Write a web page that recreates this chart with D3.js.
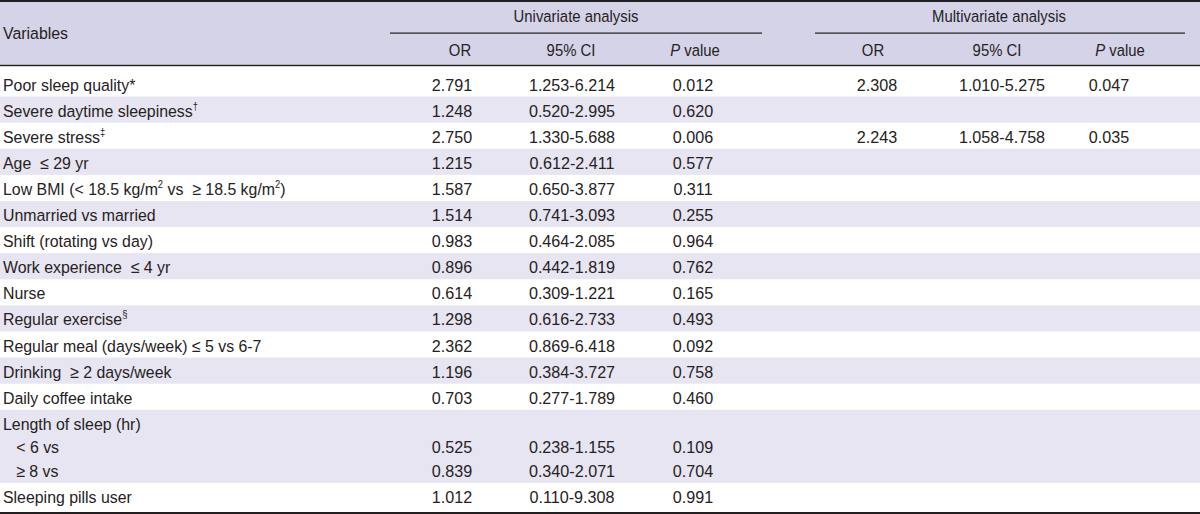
<!DOCTYPE html>
<html>
<head>
<meta charset="utf-8">
<script src="https://cdn.jsdelivr.net/npm/d3@7"></script>
<style>
  html, body { margin: 0; padding: 0; background: #ffffff; }
  svg { display: block; }
  text { font-family: "Liberation Sans", Arial, sans-serif; fill: #262223; white-space: pre; }
</style>
</head>
<body>
<svg id="chart" width="1200" height="514"></svg>
<script>
// ---- data ----
const groups = ["Univariate analysis", "Multivariate analysis"];
const subHeaders = ["OR", "95% CI", "P value", "OR", "95% CI", "P value"];
// label lines; |x| marks a superscript
const variables = [
  ["Poor sleep quality*"],
  ["Severe daytime sleepiness|†|"],
  ["Severe stress|‡|"],
  ["Age  ≤ 29 yr"],
  ["Low BMI (< 18.5 kg/m|2| vs  ≥ 18.5 kg/m|2|)"],
  ["Unmarried vs married"],
  ["Shift (rotating vs day)"],
  ["Work experience  ≤ 4 yr"],
  ["Nurse"],
  ["Regular exercise|§|"],
  ["Regular meal (days/week) ≤ 5 vs 6-7"],
  ["Drinking  ≥ 2 days/week"],
  ["Daily coffee intake"],
  ["Length of sleep (hr)", "   < 6 vs", "   ≥ 8 vs"],
  ["Sleeping pills user"]
];
const uniOR = [["2.791"],["1.248"],["2.750"],["1.215"],["1.587"],["1.514"],["0.983"],["0.896"],["0.614"],["1.298"],["2.362"],["1.196"],["0.703"],["","0.525","0.839"],["1.012"]];
const uniCI = [["1.253-6.214"],["0.520-2.995"],["1.330-5.688"],["0.612-2.411"],["0.650-3.877"],["0.741-3.093"],["0.464-2.085"],["0.442-1.819"],["0.309-1.221"],["0.616-2.733"],["0.869-6.418"],["0.384-3.727"],["0.277-1.789"],["","0.238-1.155","0.340-2.071"],["0.110-9.308"]];
const uniP  = [["0.012"],["0.620"],["0.006"],["0.577"],["0.311"],["0.255"],["0.964"],["0.762"],["0.165"],["0.493"],["0.092"],["0.758"],["0.460"],["","0.109","0.704"],["0.991"]];
const multiOR = [["2.308"],[""],["2.243"],[""],[""],[""],[""],[""],[""],[""],[""],[""],[""],["","",""],[""]];
const multiCI = [["1.010-5.275"],[""],["1.058-4.758"],[""],[""],[""],[""],[""],[""],[""],[""],[""],[""],["","",""],[""]];
const multiP  = [["0.047"],[""],["0.035"],[""],[""],[""],[""],[""],[""],[""],[""],[""],[""],["","",""],[""]];

// ---- layout ----
const W = 1200, H = 514;
const svg = d3.select("#chart");
const ink = "#231f20";
const headerBg = "#d4d3e7";
const bandBg = "#e6e5f1";
const fontSize = 17;
const kHead = 0.875;   // condensed look for column headers
const kText = 0.935;   // condensed look for variable labels
const kNum = 0.95;     // condensed look for numbers

const headerTop = 2, headerBottom = 65.5;
const rowH = 26.1, lineH = 23.5, firstExtra = 5, lastExtra = 2.6;
const textShift = 1;

let yCursor = headerBottom;
const rows = variables.map((lines, i) => {
  const extraTop = i === 0 ? firstExtra : 0;
  const extraBot = i === variables.length - 1 ? lastExtra : 0;
  const h = rowH + (lines.length - 1) * lineH + extraTop + extraBot;
  const r = { i, lines, y0: yCursor, h, textTop: yCursor + extraTop + textShift };
  yCursor += h;
  return r;
});

const lineY = d3.scaleLinear().domain([0, 1]).range([0, lineH]);

const colKeys = ["uOR", "uCI", "uP", "mOR", "mCI", "mP"];
const xVal = d3.scaleOrdinal().domain(colKeys).range([452, 572, 693, 877, 1002, 1109]);
const xHead = d3.scaleOrdinal().domain(colKeys).range([460, 571, 695, 873, 997, 1120]);
const groupSpan = d3.scaleOrdinal().domain(groups).range([[390, 762], [815, 1185]]);
const groupCenter = d3.scaleOrdinal().domain(groups).range([576, 999]);

const place = (x, y, k) => `translate(${x},${y}) scale(${k},1)`;

// backgrounds
svg.append("rect").attr("x", 0).attr("y", headerTop).attr("width", W).attr("height", headerBottom - headerTop).attr("fill", headerBg);
svg.selectAll("rect.band").data(rows.filter(r => r.i % 2 === 1)).join("rect")
  .attr("class", "band").attr("x", 0).attr("y", d => d.y0).attr("width", W).attr("height", d => d.h).attr("fill", bandBg);

// rules
svg.append("rect").attr("x", 0).attr("y", 0).attr("width", W).attr("height", 2).attr("fill", ink);
svg.append("rect").attr("x", 0).attr("y", headerBottom - 0.7).attr("width", W).attr("height", 1.4).attr("fill", ink);
svg.append("rect").attr("x", 0).attr("y", H - 2).attr("width", W).attr("height", 2).attr("fill", ink);
svg.selectAll("rect.gline").data(groups).join("rect").attr("class", "gline")
  .attr("x", d => groupSpan(d)[0]).attr("y", 32.5).attr("width", d => groupSpan(d)[1] - groupSpan(d)[0]).attr("height", 1.2).attr("fill", ink);

// header text
const dy = "0.35em";
svg.append("text").attr("transform", place(3, 33, kText)).attr("dy", dy).attr("font-size", fontSize).text("Variables");
svg.selectAll("text.group").data(groups).join("text").attr("class", "group")
  .attr("transform", d => place(groupCenter(d), 16, kHead)).attr("dy", dy).attr("text-anchor", "middle").attr("font-size", fontSize).text(d => d);
svg.selectAll("text.sub").data(subHeaders.map((s, i) => ({ s, k: colKeys[i] }))).join("text").attr("class", "sub")
  .attr("transform", d => place(xHead(d.k), 50, kHead)).attr("dy", dy).attr("text-anchor", "middle").attr("font-size", fontSize)
  .each(function (d) {
    const t = d3.select(this);
    if (d.s === "P value") {
      t.append("tspan").attr("font-style", "italic").text("P");
      t.append("tspan").text(" value");
    } else t.text(d.s);
  });

// labels
const labelLines = rows.flatMap(r => r.lines.map((s, j) => ({ s, y: r.textTop + rowH / 2 + lineY(j) })));
svg.selectAll("text.label").data(labelLines).join("text").attr("class", "label")
  .attr("transform", d => place(3, d.y, kText)).attr("font-size", fontSize)
  .each(function (d) {
    const t = d3.select(this);
    const parts = d.s.split("|");
    let prevSup = false, first = true;
    parts.forEach((part, k) => {
      const sup = k % 2 === 1;
      if (!part) return;
      const ts = t.append("tspan").text(part);
      if (sup) { ts.attr("font-size", 10).attr("dy", first ? "-0.1em" : -7); }
      else if (first) ts.attr("dy", dy);
      else if (prevSup) ts.attr("dy", 7);
      prevSup = sup; first = false;
    });
  });

// values
const cols = [["uOR", uniOR], ["uCI", uniCI], ["uP", uniP], ["mOR", multiOR], ["mCI", multiCI], ["mP", multiP]];
const cells = cols.flatMap(([k, arr]) => arr.flatMap((lines, i) => lines.map((v, j) => ({ k, v, y: rows[i].textTop + rowH / 2 + lineY(j) }))));
svg.selectAll("text.val").data(cells.filter(c => c.v)).join("text").attr("class", "val")
  .attr("transform", d => place(xVal(d.k), d.y, kNum)).attr("dy", dy).attr("text-anchor", "middle").attr("font-size", fontSize).text(d => d.v);
</script>
</body>
</html>
